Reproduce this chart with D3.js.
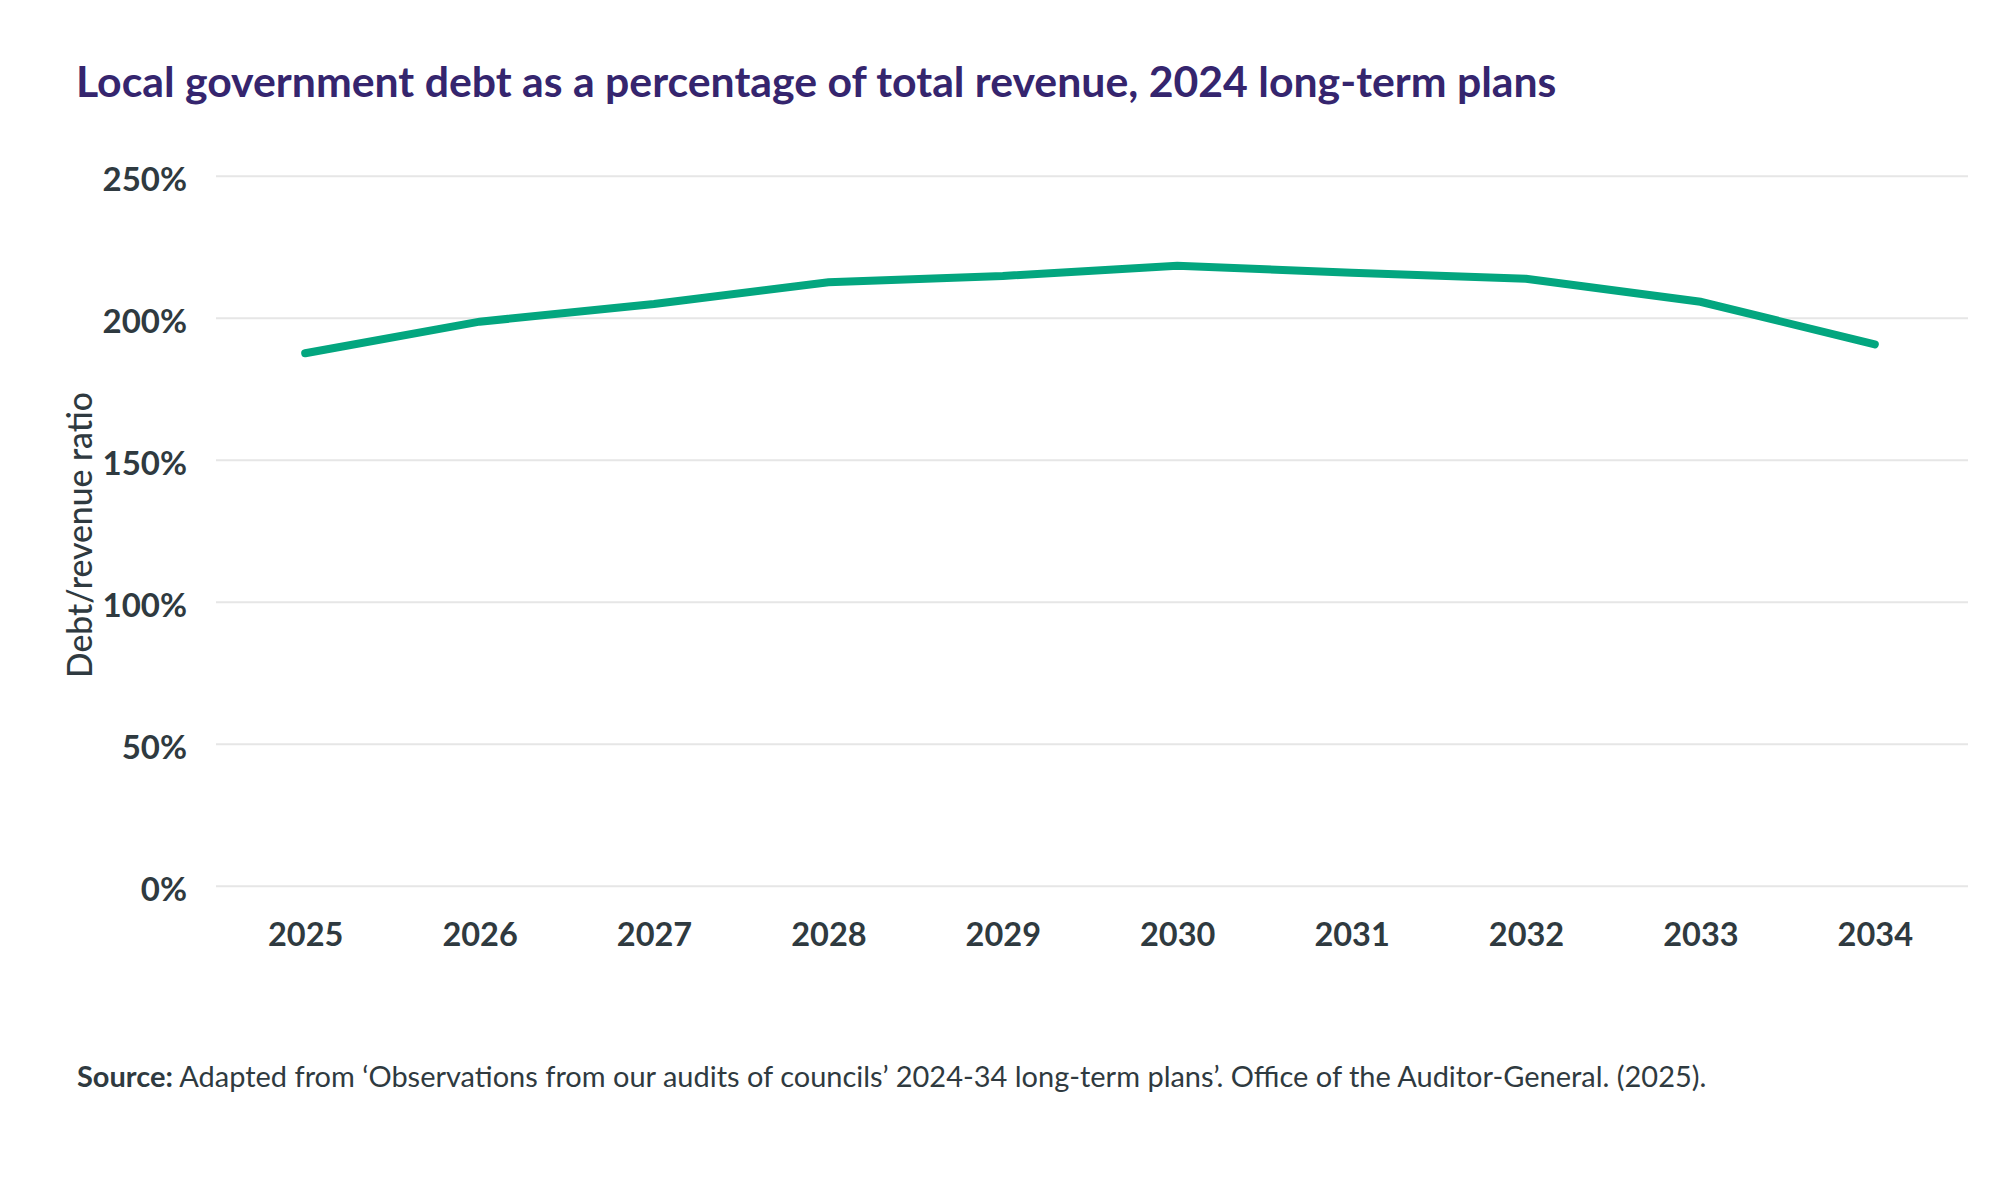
<!DOCTYPE html>
<html>
<head>
<meta charset="utf-8">
<script src="https://cdn.jsdelivr.net/npm/d3@7"></script>
<style>
  html, body { margin: 0; padding: 0; background: #ffffff; }
  svg text { font-family: Lato, "Open Sans", sans-serif; }
</style>
</head>
<body>
<div id="chart"></div>
<script>
var years = [2025, 2026, 2027, 2028, 2029, 2030, 2031, 2032, 2033, 2034];
var debtRatio = [187.5, 198.6, 204.8, 212.5, 214.7, 218.3, 215.8, 213.7, 205.6, 190.6];
var yTicks = [0, 50, 100, 150, 200, 250];

var titleText = "Local government debt as a percentage of total revenue, 2024 long-term plans";
var yTitleText = "Debt/revenue ratio";
var sourceBold = "Source:";
var sourceText = " Adapted from \u2018Observations from our audits of councils\u2019 2024-34 long-term plans\u2019. Office of the Auditor-General. (2025).";

var width = 2000, height = 1186;
var textColor = "#2f3a40";

var svg = d3.select("#chart").append("svg")
    .attr("width", width)
    .attr("height", height);

// scale a text's font size until it spans the wanted width
function fitWidth(sel, target) {
    var w = sel.node().getComputedTextLength();
    var fs = parseFloat(sel.attr("font-size"));
    sel.attr("font-size", fs * target / w);
}

var x = d3.scalePoint()
    .domain(years)
    .range([218, 1962])
    .padding(0.5);

var y = d3.scaleLinear()
    .domain([0, 250])
    .range([885.7, 175.7]);

/////////////// TITLE ///////////////
var title = svg.append("text")
    .attr("x", 76)
    .attr("y", 97)
    .attr("font-size", 40)
    .attr("font-weight", 700)
    .attr("fill", "#35256e")
    .text(titleText);
fitWidth(title, 1481);

/////////////// GRID + Y AXIS ///////////////
var yAxis = svg.append("g")
    .attr("transform", "translate(216,0)")
    .call(d3.axisLeft(y)
        .tickValues(yTicks)
        .tickSize(-1752)
        .tickPadding(29)
        .tickFormat(function(d) { return d + "%"; }));

yAxis.select(".domain").remove();
yAxis.selectAll(".tick line")
    .attr("stroke", "#e6e6e6")
    .attr("stroke-width", 2);
yAxis.selectAll(".tick text")
    .attr("font-size", 33)
    .attr("font-weight", 700)
    .attr("fill", textColor)
    .attr("dy", 14.5);

/////////////// X AXIS ///////////////
var xAxis = svg.append("g")
    .attr("transform", "translate(0,885.7)")
    .call(d3.axisBottom(x).tickSize(0).tickPadding(0));

xAxis.select(".domain").remove();
xAxis.selectAll(".tick text")
    .attr("font-size", 32.5)
    .attr("font-weight", 700)
    .attr("fill", textColor)
    .attr("dy", 0)
    .attr("y", 60);

/////////////// Y TITLE ///////////////
var yTitle = svg.append("text")
    .attr("transform", "translate(92,535) rotate(-90)")
    .attr("text-anchor", "middle")
    .attr("font-size", 30)
    .attr("font-weight", 500)
    .attr("fill", textColor)
    .text(yTitleText);
fitWidth(yTitle, 286);

/////////////// LINE ///////////////
var line = d3.line()
    .x(function(d, i) { return x(years[i]); })
    .y(function(d) { return y(d); });

svg.append("path")
    .datum(debtRatio)
    .attr("d", line)
    .attr("fill", "none")
    .attr("stroke", "#03a67f")
    .attr("stroke-width", 8)
    .attr("stroke-linecap", "round");

/////////////// SOURCE ///////////////
var source = svg.append("text")
    .attr("x", 77)
    .attr("y", 1087)
    .attr("font-size", 27)
    .attr("fill", textColor);
source.append("tspan")
    .attr("font-weight", 700)
    .text(sourceBold);
source.append("tspan")
    .attr("font-weight", 400)
    .text(sourceText);
fitWidth(source, 1630);
</script>
</body>
</html>
